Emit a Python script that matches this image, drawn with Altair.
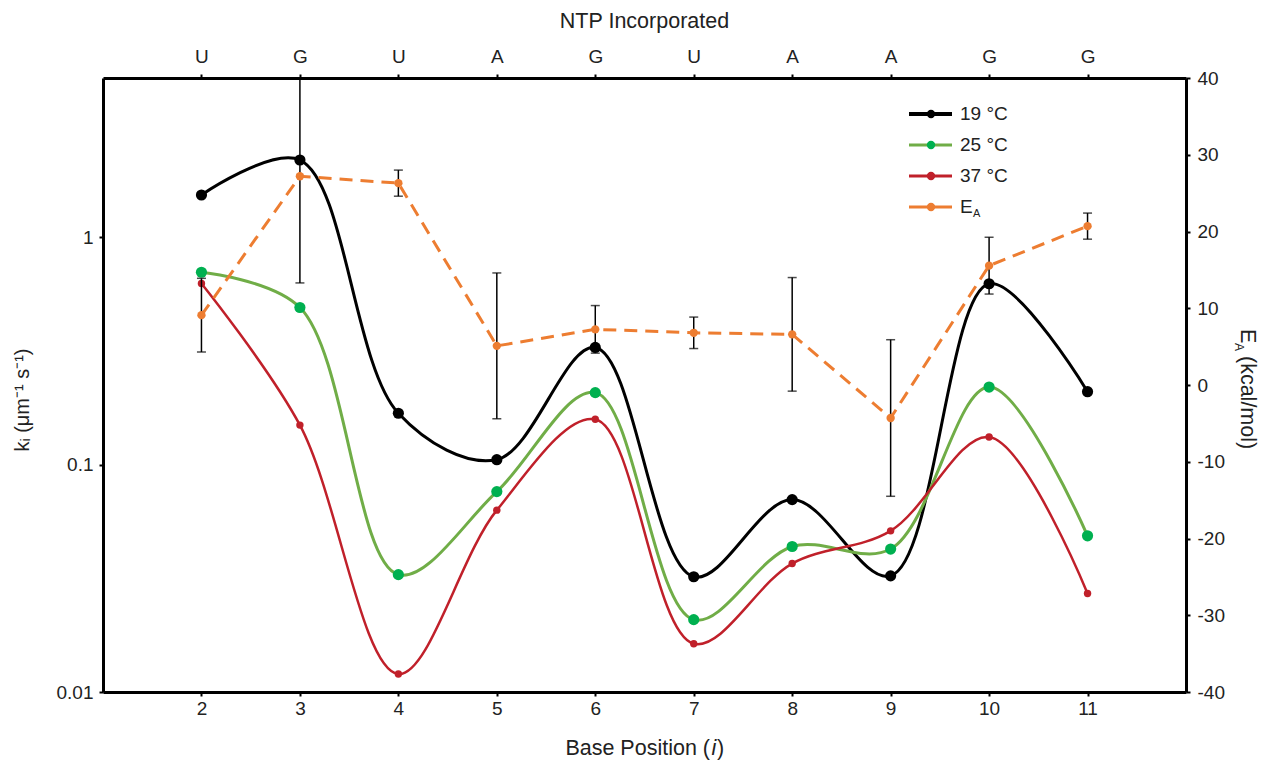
import altair as alt
import pandas as pd

# ---------------- data ----------------
positions = [2, 3, 4, 5, 6, 7, 8, 9, 10, 11]
nucleotides = ["U", "G", "U", "A", "G", "U", "A", "A", "G", "G"]
k19 = [1.53, 2.18, 0.168, 0.105, 0.327, 0.0321, 0.0701, 0.0324, 0.623, 0.209]
k25 = [0.70, 0.49, 0.0328, 0.076, 0.207, 0.0208, 0.0436, 0.0425, 0.219, 0.0486]
k37 = [0.625, 0.149, 0.012, 0.063, 0.158, 0.0163, 0.0367, 0.0511, 0.132, 0.0271]
ea = [9.1, 27.2, 26.3, 5.1, 7.25, 6.8, 6.6, -4.3, 15.55, 20.7]
ea_err = [4.8, 13.9, 1.7, 9.5, 3.1, 2.05, 7.4, 10.2, 3.7, 1.7]

series_names = ["19 °C", "25 °C", "37 °C"]
series_vals = [k19, k25, k37]

FONT = "Liberation Sans"
W, H = 1083, 614
TS = 21.5  # title size
LS = 19    # tick label size

x_scale = alt.Scale(domain=[1, 12], nice=False, zero=False)
k_scale = alt.Scale(type="log", domain=[0.01, 5], nice=False)
ea_scale = alt.Scale(domain=[-40, 40], nice=False, zero=False)

line_colors = ["#000000", "#70AD47", "#C0202A"]
point_colors = ["#000000", "#00B050", "#C0202A"]
line_widths = [3, 3, 2.5]
point_sizes = [125, 125, 55]

common = dict(title=None, grid=False, domainColor="black", domainWidth=3,
              tickColor="black", tickSize=4, tickWidth=2, labelFontSize=LS,
              labelFont=FONT, labelColor="#222")
bottom_axis = alt.Axis(values=positions, labelPadding=3, orient="bottom", **common)
nuc_expr = "[" + ",".join("'%s'" % n for n in ["", ""] + nucleotides) + "][datum.value]"
top_axis = alt.Axis(values=positions, labelPadding=8, orient="top", labelExpr=nuc_expr, **common)
left_axis = alt.Axis(values=[0.01, 0.1, 1], format="~g", labelPadding=6, orient="left", **common)
right_axis = alt.Axis(values=list(range(-40, 41, 10)), labelExpr="'' + datum.value",
                      labelPadding=7, orient="right", **common)

# ---------------- k layers ----------------
k_layers = []
for i, (name, vals) in enumerate(zip(series_names, series_vals)):
    df = pd.DataFrame({"pos": positions, "k": vals})
    base = alt.Chart(df)
    xenc = alt.X("pos:Q", scale=x_scale, axis=bottom_axis)
    yenc = alt.Y("k:Q", scale=k_scale, axis=left_axis)
    k_layers.append(base.mark_line(interpolate="catmull-rom", color=line_colors[i],
                                   strokeWidth=line_widths[i]).encode(x=xenc, y=yenc))
    k_layers.append(base.mark_point(filled=True, opacity=1, color=point_colors[i],
                                    size=point_sizes[i]).encode(x=xenc, y=yenc))
k_chart = alt.layer(*k_layers)

# ---------------- EA layers ----------------
df_ea = pd.DataFrame({"pos": positions, "ea": ea, "err": ea_err})
ea_base = alt.Chart(df_ea).transform_calculate(lo="datum.ea - datum.err",
                                               hi="datum.ea + datum.err")
xe = alt.X("pos:Q", scale=x_scale, axis=top_axis)
ea_color = "#ED7D31"
ea_line = ea_base.mark_line(color=ea_color, strokeWidth=3, strokeDash=[13, 8]).encode(
    x=xe, y=alt.Y("ea:Q", scale=ea_scale, axis=right_axis))
err_rule = ea_base.mark_rule(color="black", strokeWidth=1.5, clip=True).encode(
    x=xe, y=alt.Y("lo:Q", scale=ea_scale, axis=right_axis), y2="hi:Q")
cap_lo = ea_base.mark_tick(color="black", thickness=1.5, size=9, orient="horizontal",
                           clip=True).encode(x=xe, y=alt.Y("lo:Q", scale=ea_scale, axis=right_axis))
cap_hi = ea_base.mark_tick(color="black", thickness=1.5, size=9, orient="horizontal",
                           clip=True).encode(x=xe, y=alt.Y("hi:Q", scale=ea_scale, axis=right_axis))
ea_pts = ea_base.mark_point(filled=True, opacity=1, color=ea_color, size=70).encode(
    x=xe, y=alt.Y("ea:Q", scale=ea_scale, axis=right_axis))
ea_chart = alt.layer(ea_line, err_rule, cap_lo, cap_hi, ea_pts)

# ---------------- text / legend ----------------
one = pd.DataFrame({"a": [0]})


def txt(s, x, y, size=TS, angle=0, align="center", baseline="middle", style="normal"):
    return alt.Chart(one).mark_text(text=s, fontSize=size, font=FONT, color="#222",
                                    angle=angle, align=align, baseline=baseline,
                                    fontStyle=style).encode(x=alt.value(x), y=alt.value(y))


texts = [
    txt("NTP Incorporated", W / 2, -56),
    txt("Base Position (", 607, 671, align="right"),
    txt("i", 608.5, 671, align="left", style="italic"),
    txt(")", 614, 671, align="left"),
    txt("kᵢ (μm⁻¹ s⁻¹)", -80, 322, size=20, angle=270),
    txt("E", 1144, 251, angle=90, align="left"),
    txt("A", 1136, 265, size=12, angle=90, align="left"),
    txt("(kcal/mol)", 1144, 278, angle=90, align="left"),
]

legend_labels = series_names + ["E"]
legend_lcolors = line_colors + [ea_color]
legend_pcolors = point_colors + [ea_color]
legend_lw = [4, 3, 3, 3]
legend_y = [36, 67, 98, 129]
legend_layers = []
for lab, lc, pc, lw, ly in zip(legend_labels, legend_lcolors, legend_pcolors, legend_lw, legend_y):
    legend_layers.append(alt.Chart(one).mark_rule(color=lc, strokeWidth=lw).encode(
        x=alt.value(806), x2=alt.value(849), y=alt.value(ly)))
    legend_layers.append(alt.Chart(one).mark_point(filled=True, opacity=1, color=pc, size=70).encode(
        x=alt.value(828), y=alt.value(ly)))
    legend_layers.append(txt(lab, 857, ly, size=19, align="left"))
legend_layers.append(txt("A", 870, ly + 7, size=11, align="left"))

chart = alt.layer(k_chart, ea_chart, *texts, *legend_layers).resolve_scale(
    y="independent").resolve_axis(x="independent", y="independent").properties(
    width=W, height=H,
    autosize=alt.AutoSizeParams(type="none"),
    padding={"left": 103, "top": 78, "right": 76, "bottom": 71},
).configure_view(strokeWidth=0).configure(background="white")

chart.save("out.html", embed_options={"renderer": "svg", "actions": False})
